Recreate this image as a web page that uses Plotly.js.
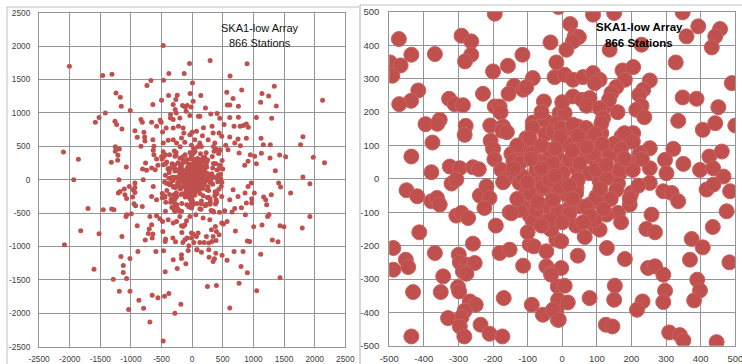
<!DOCTYPE html>
<html>
<head>
<meta charset="utf-8">
<script src="https://cdn.plot.ly/plotly-3.0.1.min.js"></script>
<style>
  html, body { margin: 0; padding: 0; background: #ffffff; }
  #chart { width: 742px; height: 364px; }
</style>
</head>
<body>
<div id="chart"></div>
<script>
// ---- Station positions (metres, east / north) ----
// Outer stations (outside the +/-500 m core box), by quadrant
const outerNW = [[-472,2010],[-2004,1700],[-1460,1560],[-1309,1580],[-43,1740],[-380,1590],[-130,1590],[-673,1485],[-738,1410],[-467,1490],[5,1450],[-1243,1300],[-1173,1235],[-1157,1100],[-1010,1035],[-1417,1000],[-1520,930],[-1580,860],[-1260,875],[-1233,825],[-1146,760],[-641,1125],[-500,1190],[-385,1260],[-244,1265],[-266,1200],[-309,1125],[-277,1050],[-353,975],[-353,925],[-201,925],[-260,1000],[-157,1110],[-114,1090],[-81,1110],[-16,1090],[-98,1025],[-33,1290],[16,1175],[-38,960],[103,950],[-814,860],[-836,900],[-662,860],[-521,890],[-505,860],[-581,800],[-483,715],[-424,775],[-309,900],[-309,775],[-223,800],[-147,775],[-136,700],[-934,735],[-896,635],[-787,710],[-776,640],[-836,500],[-771,580],[-2101,415],[-1857,305],[-1254,495],[-1189,460],[-1254,425],[-1211,365],[-1320,260],[-1216,290],[-1075,190],[-1933,0],[-1195,0],[-641,600],[-624,500],[-635,440],[-624,375],[-581,310],[-809,160],[-760,250],[-744,140],[-662,175],[-603,150],[-559,215],[-472,550],[-391,590],[-309,600],[-255,550],[-174,625],[-120,560],[-11,515],[43,600],[-38,675],[70,725]];
const outerNE = [[293,1785],[896,1735],[619,1555],[141,1260],[565,1310],[809,1345],[668,1215],[575,1120],[614,1120],[755,1100],[1140,1290],[1249,1255],[1341,1400],[1118,1160],[1374,1105],[2129,1190],[217,1075],[304,985],[407,990],[451,920],[614,930],[755,935],[1048,930],[1298,920],[125,950],[326,800],[521,825],[684,800],[782,800],[836,810],[885,835],[917,785],[483,650],[614,640],[749,610],[885,620],[1124,620],[1162,525],[1276,525],[1808,645],[1770,525],[787,510],[548,515],[766,400],[950,375],[1130,395],[1021,350],[1428,370],[1526,345],[1977,335],[2161,255],[1358,135],[1048,240],[1808,40],[1271,325],[912,275],[858,215],[342,700],[168,660],[0,710],[185,780],[440,700],[261,600],[369,550],[125,550],[586,450],[695,550]];
const outerSW = [[-1700,-430],[-1450,-450],[-1314,-440],[-1276,-450],[-1819,-765],[-1520,-810],[-2085,-975],[-1146,-850],[-1602,-1340],[-1162,-1150],[-1124,-1285],[-1124,-1390],[-1015,-1180],[-1287,-1490],[-1070,-1480],[-1189,-1670],[-1015,-1670],[-869,-1805],[-793,-1925],[-1037,-1945],[-690,-2130],[-472,-2415],[-282,-2000],[-185,-1865],[-380,-1705],[-451,-1745],[-559,-1770],[-652,-1730],[-440,-1380],[-244,-1330],[-103,-1260],[-174,-1180],[-174,-1125],[-309,-1200],[-467,-1065],[-592,-1075],[-885,-1075],[-440,-925],[-434,-890],[-315,-875],[-271,-930],[-152,-940],[-54,-990],[76,-1050],[-652,-875],[-766,-905],[-641,-815],[-716,-805],[-478,-775],[-483,-625],[-662,-675],[-700,-740],[-896,-690],[-1070,-525],[-1080,-550],[-994,-510],[-923,-390],[-950,-360],[-814,-400],[-1070,-280],[-972,-260],[-934,-190],[-961,-150],[-1205,-200],[-1178,-175],[-1108,-140],[-1026,-100],[-934,-115],[-934,-50],[-1097,-225],[-798,0],[-635,-100],[-581,-300],[-662,-250],[-690,-550],[-581,-540],[-527,-585],[-391,-600],[-309,-650],[-255,-625],[-174,-690],[-92,-615],[-168,-790],[-11,-800],[-119,-900],[70,-850],[-11,-875],[27,-940],[-201,-550]];
const outerSE = [[1412,-50],[1444,-110],[1922,-60],[1607,-200],[1292,-225],[1167,-260],[1200,-300],[1216,-375],[1015,-200],[972,-285],[885,-350],[972,-350],[1232,-550],[1254,-520],[1140,-680],[1005,-705],[869,-525],[1434,-690],[1499,-705],[1797,-725],[1922,-550],[1309,-905],[1401,-930],[901,-920],[939,-925],[706,-770],[684,-1075],[831,-1075],[1119,-1115],[570,-1205],[489,-1130],[386,-1100],[342,-1225],[272,-1050],[798,-1300],[901,-1395],[1434,-1470],[766,-1550],[1053,-1665],[396,-1585],[250,-1600],[614,-1920],[483,-650],[510,-665],[380,-700],[396,-775],[342,-850],[440,-825],[326,-925],[391,-910],[272,-950],[195,-940],[125,-940],[233,-850],[81,-1050],[152,-1085],[-65,-1060],[277,-1160],[364,-1185],[695,-430],[804,-420],[651,-485],[532,-465],[863,-200],[749,-250],[614,-300],[912,-100],[966,-50],[668,-150],[570,-625],[98,-800],[16,-815],[-81,-875],[-119,-675],[-147,-700],[-38,-550],[60,-525],[179,-575],[288,-600],[315,-750]];

// Core stations (inside the +/-500 m box), by quadrant
const coreNW = [[-195,495],[-472,419],[-291,429],[-263,412],[-263,372],[-281,352],[-436,372],[-368,374],[-498,349],[-467,340],[-491,309],[-200,322],[-157,339],[-115,372],[-34,409],[-85,302],[-17,349],[-22,305],[-416,265],[-437,234],[-471,224],[-327,240],[-311,224],[-287,221],[-229,255],[-139,279],[-155,255],[-113,267],[-104,275],[-53,232],[-195,217],[-181,217],[-178,199],[-395,164],[-354,177],[-361,165],[-375,109],[-279,159],[-282,132],[-208,160],[-171,157],[-173,144],[-85,169],[-85,154],[-49,175],[-49,134],[-8,197],[-436,67],[-378,20],[-325,37],[-296,32],[-258,35],[-241,29],[-207,114],[-200,90],[-196,59],[-176,27],[-147,75],[-141,54],[-119,87],[-104,122],[-101,94],[-85,77],[-61,52],[-37,67],[-17,82],[-10,117],[-162,2],[-123,7],[-65,7],[-27,12]];
const coreNE = [[89,492],[150,497],[348,499],[23,464],[36,427],[48,425],[31,412],[12,387],[137,387],[229,402],[359,427],[393,457],[456,449],[442,427],[432,394],[328,349],[7,312],[31,297],[60,305],[89,317],[108,297],[94,287],[174,325],[205,335],[181,297],[156,275],[142,257],[253,295],[234,267],[222,252],[490,287],[31,247],[57,237],[79,242],[70,219],[128,219],[135,237],[108,212],[229,219],[214,207],[237,185],[348,244],[388,240],[451,215],[500,160],[442,167],[406,147],[335,174],[7,197],[118,182],[-17,167],[-27,142],[21,152],[45,157],[69,152],[113,137],[89,117],[171,127],[205,137],[195,112],[253,92],[224,77],[321,90],[297,57],[350,45],[425,67],[461,82],[466,7],[398,27],[436,32],[-8,107],[26,92],[60,97],[118,87],[147,77],[171,57],[205,47],[253,32],[301,17],[-17,67],[21,57],[70,67],[99,47],[-8,27],[41,32],[79,17],[128,27],[166,17]];
const coreSW = [[-450,-34],[-419,-52],[-378,-67],[-362,-57],[-354,-77],[-320,-14],[-306,-2],[-306,-110],[-291,-102],[-272,-117],[-413,-160],[-488,-207],[-452,-242],[-445,-264],[-488,-272],[-368,-222],[-299,-227],[-296,-250],[-277,-257],[-253,-252],[-258,-194],[-287,-277],[-277,-284],[-344,-292],[-431,-339],[-351,-339],[-301,-324],[-298,-337],[-267,-367],[-250,-377],[-282,-395],[-291,-414],[-330,-417],[-296,-442],[-283,-472],[-236,-437],[-210,-464],[-173,-472],[-436,-472],[-169,-357],[-238,-50],[-219,-22],[-210,-57],[-225,-87],[-192,-140],[-181,-222],[-152,-212],[-171,-10],[-152,-100],[-113,-82],[-94,-110],[-75,-112],[-85,-127],[-113,-260],[-94,-197],[-82,-202],[-46,-217],[-38,-147],[-46,-262],[-32,-282],[-13,-322],[-88,-377],[-56,-407],[-17,-397],[-13,-422],[-123,-12],[-104,-42],[-65,-32],[-27,-62],[-46,-82],[-17,-102],[-17,-182],[-80,-62],[-32,-37]];
const coreSE = [[108,-7],[161,-14],[200,-42],[195,-77],[161,-102],[128,-107],[99,-52],[79,-77],[50,-82],[21,-87],[-13,-97],[-22,-42],[12,-47],[41,-27],[253,-12],[292,-37],[316,-42],[335,-67],[417,-32],[437,-17],[485,-37],[475,-97],[258,-107],[243,-150],[268,-160],[435,-144],[374,-180],[406,-205],[94,-142],[108,-152],[65,-174],[-3,-187],[-32,-152],[129,-207],[45,-230],[181,-240],[369,-242],[483,-250],[248,-267],[268,-262],[292,-287],[-3,-267],[-32,-287],[7,-320],[152,-320],[150,-362],[79,-357],[297,-335],[292,-369],[390,-302],[398,-334],[381,-364],[232,-367],[216,-392],[-12,-362],[16,-370],[-27,-392],[-10,-422],[126,-437],[145,-442],[309,-460],[340,-468],[350,-484],[446,-489],[-13,-32]];
const coreCentre = [[-94,122],[-3,152],[31,162],[69,152],[113,167],[180,137],[204,112],[137,77],[89,77],[166,27],[204,27],[127,2],[156,-33],[195,-58],[98,-58],[69,-83],[93,-123],[45,-3],[2,17],[-27,47],[21,57],[50,47],[-114,7],[-123,47],[-75,27],[-94,-43],[-56,-23],[-27,-63],[-75,-93],[-123,-93],[-147,-103],[21,-103],[-37,-123],[40,-43],[-8,-23],[-37,-3],[12,107],[60,112],[-37,87],[98,27],[127,42],
  [-60,100],[-5,125],[45,130],[95,135],[150,105],[170,90],[115,105],[70,95],[30,85],[-20,90],[-90,60],[-60,30],[-140,30],[-100,-10],[-20,10],[20,-20],[110,-30],[140,-60],[120,-90],[80,-110],[40,-140],[0,-130],[-60,-140],[-100,-160],[-130,-60],[-70,-70],[30,-60],[60,-130],[170,-130],[180,60],[220,-20],[230,60],[-160,140],[-130,100],[-60,200],[0,230],[160,200]];

// Axis tick values
const wideTicks = [-2500,-2000,-1500,-1000,-500,0,500,1000,1500,2000,2500];
const coreTicks = [-500,-400,-300,-200,-100,0,100,200,300,400,500];

// Labels
const titleLine1 = 'SKA1-low Array';
const titleLine2 = '866 Stations';

const stations = [].concat(outerNW, outerNE, outerSW, outerSE, coreNW, coreNE, coreSW, coreSE, coreCentre);
const xs = stations.map(p => p[0]);
const ys = stations.map(p => p[1]);

const RED = '#C0504D';
const W = 742, H = 364;
const px = v => v / W;
const py = v => (H - v) / H;

const gridCol = '#959595';
const tickFont = (s) => ({ family: 'Liberation Sans, Arial, sans-serif', size: s, color: '#404040' });

function axis(domain, range, ticks, fsize, standoff) {
  return {
    domain: domain, range: range, tickmode: 'array', tickvals: ticks,
    ticktext: ticks.map(String),
    showgrid: true, gridcolor: gridCol, gridwidth: 1,
    zeroline: false, showline: true, mirror: true, linecolor: gridCol, linewidth: 1,
    ticks: '', tickfont: tickFont(fsize), ticklabelstandoff: standoff,
    ticklabeloverflow: 'allow',
    fixedrange: true
  };
}

const traces = [
  { type: 'scatter', mode: 'markers', x: xs, y: ys, xaxis: 'x', yaxis: 'y',
    marker: { color: RED, size: 5, line: { width: 0 } }, hoverinfo: 'skip' },
  { type: 'scatter', mode: 'markers', x: xs, y: ys, xaxis: 'x2', yaxis: 'y2',
    marker: { color: RED, size: 15, line: { width: 1, color: '#c9625f' } }, hoverinfo: 'skip' }
];

const layout = {
  width: W, height: H,
  margin: { l: 0, r: 0, t: 0, b: 0 },
  paper_bgcolor: '#ffffff', plot_bgcolor: '#ffffff',
  showlegend: false,
  xaxis: Object.assign(axis([px(39), px(345.3)], [-2500, 2500], wideTicks, 8.3, 4), { anchor: 'y' }),
  yaxis: Object.assign(axis([py(346.6), py(12.8)], [-2500, 2500], wideTicks, 8.3, 6), { anchor: 'x' }),
  xaxis2: Object.assign(axis([px(389.2), px(735.3)], [-500, 500], coreTicks, 9.5, 4), { anchor: 'y2' }),
  yaxis2: Object.assign(axis([py(345.8), py(12)], [-500, 500], coreTicks, 9.5, 7), { anchor: 'x2' }),
  shapes: [
    { type: 'line', xref: 'paper', yref: 'paper', x0: px(7), x1: px(7), y0: 0, y1: py(7), line: { color: '#c0c0c0', width: 1 } },
    { type: 'line', xref: 'paper', yref: 'paper', x0: px(7), x1: px(359), y0: py(7), y1: py(7), line: { color: '#c0c0c0', width: 1 } },
    { type: 'line', xref: 'paper', yref: 'paper', x0: px(360), x1: px(360), y0: 0, y1: py(5), line: { color: '#b0b0b0', width: 1 } },
    { type: 'line', xref: 'paper', yref: 'paper', x0: px(360), x1: 1, y0: py(5), y1: py(5), line: { color: '#c0c0c0', width: 1 } }
  ],
  annotations: [
    { xref: 'paper', yref: 'paper', x: px(259.5), y: py(28), text: titleLine1, showarrow: false, xanchor: 'center', yanchor: 'middle',
      font: { family: 'Liberation Sans, Arial, sans-serif', size: 11, color: '#111111' } },
    { xref: 'paper', yref: 'paper', x: px(259.5), y: py(43), text: titleLine2, showarrow: false, xanchor: 'center', yanchor: 'middle',
      font: { family: 'Liberation Sans, Arial, sans-serif', size: 11, color: '#111111' } },
    { xref: 'paper', yref: 'paper', x: px(639), y: py(27), text: '<b>' + titleLine1 + '</b>', showarrow: false, xanchor: 'center', yanchor: 'middle',
      font: { family: 'Liberation Sans, Arial, sans-serif', size: 11.5, color: '#000000' } },
    { xref: 'paper', yref: 'paper', x: px(639), y: py(43), text: '<b>' + titleLine2 + '</b>', showarrow: false, xanchor: 'center', yanchor: 'middle',
      font: { family: 'Liberation Sans, Arial, sans-serif', size: 11.5, color: '#000000' } }
  ]
};

Plotly.newPlot('chart', traces, layout, { staticPlot: true, displayModeBar: false });
</script>
</body>
</html>
